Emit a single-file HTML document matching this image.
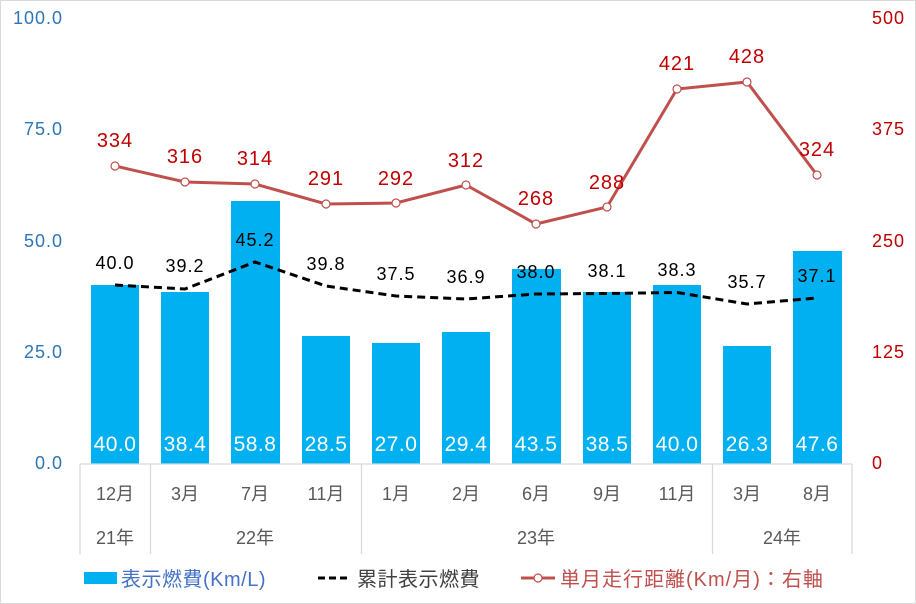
<!DOCTYPE html>
<html><head><meta charset="utf-8"><style>
body{margin:0;background:#fff}
svg{display:block;font-family:"Liberation Sans","Noto Sans CJK JP",sans-serif}
</style></head><body>
<svg width="916" height="604" viewBox="0 0 916 604">
<rect x="0.5" y="0.5" width="915" height="603" fill="#fff" stroke="#d9d9d9"/>
<g font-size="18" fill="#2E75B6" text-anchor="end" letter-spacing="1">
<text x="63" y="24">100.0</text><text x="63" y="135">75.0</text><text x="63" y="247">50.0</text><text x="63" y="358">25.0</text><text x="63" y="469">0.0</text>
</g>
<g font-size="18" fill="#C00000" text-anchor="start" letter-spacing="1">
<text x="872" y="24">500</text><text x="872" y="135">375</text><text x="872" y="247">250</text><text x="872" y="358">125</text><text x="872" y="469">0</text>
</g>
<g fill="#00B0F0">
<rect x="91" y="285" width="48" height="179"/>
<rect x="161" y="292" width="48" height="172"/>
<rect x="231" y="201" width="49" height="263"/>
<rect x="302" y="336" width="48" height="128"/>
<rect x="372" y="343" width="48" height="121"/>
<rect x="442" y="332" width="48" height="132"/>
<rect x="512" y="269" width="49" height="195"/>
<rect x="583" y="292" width="48" height="172"/>
<rect x="653" y="285" width="48" height="179"/>
<rect x="723" y="346" width="48" height="118"/>
<rect x="793" y="251" width="49" height="213"/>
</g>
<g font-size="21" fill="#fff" text-anchor="middle" letter-spacing="0.5">
<text x="115" y="451">40.0</text><text x="185" y="451">38.4</text><text x="255" y="451">58.8</text><text x="326" y="451">28.5</text><text x="396" y="451">27.0</text><text x="466" y="451">29.4</text><text x="536" y="451">43.5</text><text x="607" y="451">38.5</text><text x="677" y="451">40.0</text><text x="747" y="451">26.3</text><text x="817" y="451">47.6</text>
</g>
<polyline fill="none" stroke="#000" stroke-width="3" stroke-dasharray="8,5" points="115,285 185,289 255,262 326,286 396,296 466,299 536,294 607,293.5 677,292.5 747,304 817,298"/>
<g font-size="18" fill="#000" text-anchor="middle" letter-spacing="1">
<text x="115" y="269">40.0</text><text x="185" y="272">39.2</text><text x="255" y="246">45.2</text><text x="326" y="270">39.8</text><text x="396" y="280">37.5</text><text x="466" y="283">36.9</text><text x="536" y="278">38.0</text><text x="607" y="277">38.1</text><text x="677" y="276">38.3</text><text x="747" y="288">35.7</text><text x="817" y="282">37.1</text>
</g>
<polyline fill="none" stroke="#C0504D" stroke-width="3" points="115,166 185,182 255,184 326,204 396,203 466,185 536,224 607,207 677,89 747,82 817,175"/>
<g fill="#fff" stroke="#C0504D" stroke-width="1.2">
<circle cx="115" cy="166" r="4"/><circle cx="185" cy="182" r="4"/><circle cx="255" cy="184" r="4"/><circle cx="326" cy="204" r="4"/><circle cx="396" cy="203" r="4"/><circle cx="466" cy="185" r="4"/><circle cx="536" cy="224" r="4"/><circle cx="607" cy="207" r="4"/><circle cx="677" cy="89" r="4"/><circle cx="747" cy="82" r="4"/><circle cx="817" cy="175" r="4"/>
</g>
<g font-size="20" fill="#C00000" text-anchor="middle" letter-spacing="1">
<text x="115" y="147">334</text><text x="185" y="163">316</text><text x="255" y="165">314</text><text x="326" y="185">291</text><text x="396" y="185">292</text><text x="466" y="167">312</text><text x="536" y="205">268</text><text x="607" y="189">288</text><text x="677" y="70">421</text><text x="747" y="63">428</text><text x="817" y="156">324</text>
</g>
<g stroke="#d9d9d9" stroke-width="1.3">
<line x1="80" y1="464" x2="852" y2="464"/>
<line x1="80" y1="464" x2="80" y2="554"/><line x1="150.5" y1="464" x2="150.5" y2="554"/><line x1="361.5" y1="464" x2="361.5" y2="554"/><line x1="712.5" y1="464" x2="712.5" y2="554"/><line x1="852" y1="464" x2="852" y2="554"/>
</g>
<g font-size="18" fill="#595959" text-anchor="middle">
<text x="115" y="500">12月</text><text x="185" y="500">3月</text><text x="255" y="500">7月</text><text x="326" y="500">11月</text><text x="396" y="500">1月</text><text x="466" y="500">2月</text><text x="536" y="500">6月</text><text x="607" y="500">9月</text><text x="677" y="500">11月</text><text x="747" y="500">3月</text><text x="817" y="500">8月</text>
<text x="115" y="544">21年</text><text x="255" y="544">22年</text><text x="536" y="544">23年</text><text x="782" y="544">24年</text>
</g>
<rect x="84" y="572" width="33" height="12" fill="#00B0F0"/>
<text x="121" y="586" font-size="20" fill="#4472C4" letter-spacing="0.5">表示燃費(Km/L)</text>
<line x1="318" y1="578" x2="350" y2="578" stroke="#000" stroke-width="3" stroke-dasharray="7,4"/>
<text x="357" y="586" font-size="20" fill="#404040" letter-spacing="0.5">累計表示燃費</text>
<line x1="521" y1="578" x2="555" y2="578" stroke="#C0504D" stroke-width="3"/>
<circle cx="538" cy="578" r="4" fill="#fff" stroke="#C0504D" stroke-width="1.2"/>
<text x="560" y="586" font-size="20" fill="#C0504D" letter-spacing="1">単月走行距離(Km/月)：右軸</text>
</svg>
</body></html>
